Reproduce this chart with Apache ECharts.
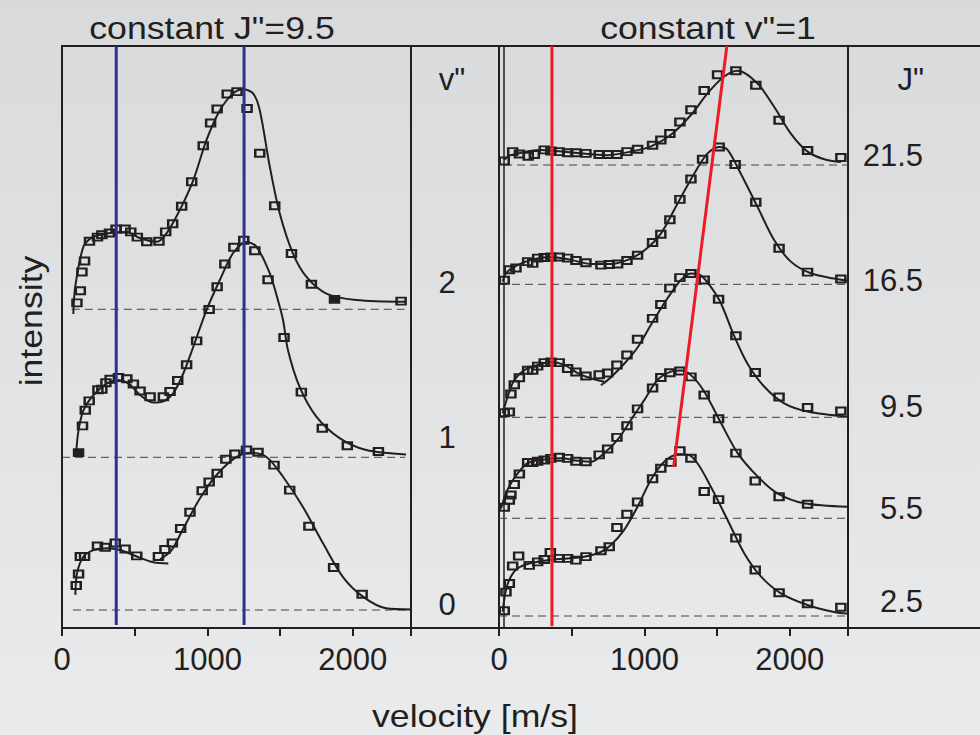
<!DOCTYPE html>
<html><head><meta charset="utf-8">
<script src="https://cdn.jsdelivr.net/npm/echarts@6/dist/echarts.min.js"></script>
<style>html,body{margin:0;padding:0;}#c{width:980px;height:735px;background:linear-gradient(#d9dadc,#eaebec);}</style>
</head><body><div id="c"></div>
<script>
// ---------------- DATA ----------------
// velocity axis (m/s)
const xTickLabels = [0, 1000, 2000];
// baselines (intensity offsets) of each trace
const leftOffsets  = [3.09, 29.33, 54.76];               // v'' = 0, 1, 2
const rightOffsets = [2.06, 18.85, 36.2, 59.05, 79.55];   // J'' = 2.5, 5.5, 9.5, 16.5, 21.5
const vLabels = ['0', '1', '2'];
const jLabels = ['2.5', '5.5', '9.5', '16.5', '21.5'];
// guide lines
const blueLines = [373, 1252];
const redVertical = 364;
const redSlant = [[1201, 27.7], [1567, 100]];

// ---- left panel, constant J''=9.5 ----
// v''=2
const L2_markV = [103,126,137,155,189,244,274,326,372,434,473,518,583,667,713,761,823,892,971,1022,1067,1136,1204,1273,1360,1463,1578,1715,2332];
const L2_markI = [1.1,3.2,6.4,8.3,11.7,12.4,12.8,13.1,13.8,13.8,13.3,12.4,11.6,11.7,13.3,14.7,17.7,21.9,28.1,32.0,34.4,37.0,37.4,34.5,26.8,17.8,9.6,4.3,1.4];
const L2_fillV = [1874];
const L2_fillI = [1.7];
const L2_fitV = [78,91,148,217,354,446,537,652,720,811,903,994,1086,1177,1246,1314,1360,1429,1497,1588,1680,1818,2023,2366];
const L2_fitI = [-0.8,3.9,10.8,12.5,13.2,13.3,12.2,11.6,13.1,17.1,22.2,29.1,34.2,37.1,37.8,37.1,34.2,24.5,16.5,9.6,5.6,2.7,1.6,1.3];
// v''=1
const L1_markV = [141,160,187,247,274,302,331,388,446,491,537,606,697,743,796,857,926,1012,1067,1120,1182,1250,1326,1417,1527,1646,1790,1962,2176];
const L1_markI = [5.4,8.1,9.7,11.6,11.7,12.8,13.4,13.7,13.5,12.6,11.4,10.4,10.4,11.3,13.2,15.9,20.0,25.4,29.3,33.2,36.1,37.3,35.5,30.5,20.6,11.2,5.0,2.0,1.0];
const L1_fillV = [114];
const L1_fillI = [0.8];
const L1_fitV = [98,114,148,217,309,388,457,537,628,697,765,834,903,994,1086,1177,1269,1337,1429,1485,1520,1554,1634,1749,1909,2092,2366];
const L1_fitI = [1.0,4.7,8.1,10.7,12.7,13.3,12.7,10.7,9.4,9.6,11.0,14.4,19.0,25.3,30.5,35.1,37.0,36.2,31.6,27.0,23.6,18.4,12.1,7.0,3.3,1.25,0.5];
// v''=0
const L0_markV = [98,114,126,155,244,297,366,434,514,663,708,759,816,880,964,1012,1067,1127,1189,1269,1348,1458,1566,1698,1868,2064];
const L0_markI = [4.2,6.2,9.2,9.2,11.0,10.8,11.5,10.5,9.3,9.2,10.4,11.5,14.0,16.8,20.5,22.0,23.5,25.9,26.8,27.5,27.1,24.9,20.6,14.4,7.3,2.7];
const L0_fitAV = [92,103,148,217,309,400,514,628,731];
const L0_fitAI = [2.6,6.3,9.2,10.3,10.6,10.3,9.2,8.2,8.0];
const L0_fitBV = [674,754,834,949,1063,1200,1292,1406,1520,1657,1794,1931,2069,2229,2400];
const L0_fitBI = [8.7,10.3,14.0,19.2,23.2,26.3,27.0,26.3,22.9,17.7,11.5,5.7,2.3,0.3,0.1];

// ---- right panel, constant v''=1 ----
// J''=21.5
const R21_markV = [36,94,140,201,243,311,357,414,472,529,598,689,747,811,880,953,1056,1113,1175,1244,1320,1411,1503,1629,1766,1926,2122,2351];
const R21_markI = [0.7,2.3,1.9,1.5,1.8,2.6,2.4,2.3,2.1,2.1,2.0,1.8,1.8,1.8,2.3,2.7,3.4,4.3,5.4,7.4,9.5,12.8,15.5,16.2,13.7,7.7,2.5,1.3];
const R21_fitV = [36,82,289,518,747,907,1045,1182,1320,1434,1548,1641,1778,1892,2007,2122,2236,2351];
const R21_fitI = [0.9,1.7,2.6,2.1,1.7,2.3,3.2,5.2,8.6,12.3,15.2,16.2,14.0,10.0,5.4,2.3,1.0,0.5];
// J''=16.5
const R16_markV = [36,71,117,197,232,266,311,357,414,472,529,598,701,758,816,880,953,1056,1113,1175,1244,1320,1400,1514,1624,1766,1926,2122,2351];
const R16_markI = [0.7,2.5,2.8,3.9,3.6,4.5,4.6,4.7,4.7,4.5,4.1,3.7,3.3,3.4,3.5,4.1,5.0,7.2,8.6,11.1,14.6,18.1,21.5,23.6,20.6,14.1,6.2,2.1,0.9];
const R16_fitV = [25,48,105,220,357,495,632,770,885,999,1113,1228,1342,1434,1514,1572,1663,1778,1892,2007,2144,2304,2400];
const R16_fitI = [0.5,1.9,3.0,4.2,4.7,4.2,3.5,3.5,4.2,5.8,8.7,13.9,19.0,22.5,23.6,23.1,19.0,13.3,7.6,3.9,1.9,1.0,0.6];
// J''=9.5
const R9_markV = [36,71,82,105,140,197,232,266,311,357,414,472,529,598,689,747,811,880,953,1056,1113,1175,1244,1320,1411,1510,1629,1762,1926,2122,2351];
const R9_markI = [0.8,0.9,4.0,5.6,6.8,8.1,8.1,8.8,9.4,9.5,9.4,8.4,7.8,7.1,7.3,7.6,9.0,10.7,13.4,17.0,19.4,22.2,24.0,24.7,23.6,20.3,14.0,7.7,3.5,1.7,1.1];
const R9_fitAV = [25,60,105,174,266,357,449,541,632,724];
const R9_fitAI = [0.7,3.6,6.4,8.1,9.0,9.5,9.0,7.6,6.7,6.1];
const R9_fitBV = [701,770,861,953,1045,1136,1182,1251,1320,1388,1457,1526,1617,1709,1823,1961,2122,2397];
const R9_fitBI = [5.5,6.9,9.2,12.0,15.9,19.6,21.3,23.6,24.7,24.4,22.4,19.6,14.0,9.2,5.3,2.4,1.0,0.1];
// J''=5.5
const R5_markV = [36,71,82,105,140,197,232,266,311,357,414,472,529,598,689,747,811,880,953,1056,1113,1175,1244,1320,1411,1510,1629,1762,1926,2122];
const R5_markI = [1.9,3.1,4.0,5.8,7.6,9.6,9.6,9.8,10.0,10.3,10.5,10.3,9.8,9.7,10.9,11.9,13.9,15.9,18.8,22.4,24.2,25.0,25.3,24.3,21.2,17.1,11.2,6.4,3.7,2.4];
const R5_fitV = [14,48,82,129,197,311,426,541,632,724,816,907,999,1091,1182,1251,1320,1411,1526,1641,1778,1915,2098,2397];
const R5_fitI = [1.7,4.3,6.0,7.7,9.5,10.1,10.3,9.9,9.7,11.2,13.5,16.9,20.3,23.8,25.2,25.4,24.6,21.8,16.4,11.2,7.2,4.3,2.6,2.0];
// J''=2.5
const R2_markV = [36,48,71,94,135,208,266,311,353,414,472,529,598,701,758,811,880,953,1056,1113,1182,1244,1320,1411,1510,1629,1762,1926,2122,2351];
const R2_markI = [0.9,4.1,5.6,8.6,10.3,8.7,9.3,9.7,10.9,9.9,9.9,9.6,10.2,11.2,11.9,15.2,17.5,19.6,23.6,25.4,26.4,28.4,27.1,21.4,20.0,13.4,7.9,4.0,2.1,1.5];
const R2_fitV = [25,48,82,129,220,335,472,586,701,770,861,953,1045,1136,1228,1297,1366,1457,1572,1686,1801,1938,2122,2304,2400];
const R2_fitI = [0.7,4.5,6.8,8.2,9.1,9.6,9.9,10.2,11.0,12.2,14.8,18.8,23.4,26.5,27.7,27.7,26.2,22.2,16.5,10.8,6.8,3.9,1.9,0.7,0.4];

// ---------------- LAYOUT / STYLE ----------------
const INK = '#231f20';
const FONT = '"Liberation Sans", Arial, Helvetica, sans-serif';
const BLUE = '#2e3192';
const RED = '#ed1c24';
const GRID_TOP = 46, GRID_H = 582, GRID_W = 349;
const LEFT_X = 62, RIGHT_X = 499;

function P(vs, is, off) { return vs.map((v, k) => [v, +(off + is[k]).toFixed(3)]); }
function fit(g, data) {
  return {type: 'line', xAxisIndex: g, yAxisIndex: g, data: data, symbol: 'none', showSymbol: false,
    smooth: 0.3, lineStyle: {color: INK, width: 2}, z: 3, silent: true, animation: false};
}
function marks(g, data, filled) {
  return {type: 'scatter', xAxisIndex: g, yAxisIndex: g, data: data, symbol: 'rect', symbolSize: [9, 7],
    itemStyle: {color: filled ? INK : 'rgba(0,0,0,0)', borderColor: INK, borderWidth: 2.2, opacity: 1},
    z: 4, silent: true, animation: false};
}
function baseLine(g, v0, v1, off) {
  return {type: 'line', xAxisIndex: g, yAxisIndex: g, data: [[v0, off], [v1, off]], symbol: 'none',
    lineStyle: {color: '#444', width: 1, type: [8, 5]}, z: 2, silent: true, animation: false};
}
function guide(g, data, color) {
  return {type: 'line', xAxisIndex: g, yAxisIndex: g, data: data, symbol: 'none',
    lineStyle: {color: color, width: 3}, z: 6, silent: true, animation: false};
}
function xAxis(g) {
  return {gridIndex: g, type: 'value', min: 0, max: 2400, interval: 500,
    axisLine: {show: true, onZero: false, lineStyle: {color: INK, width: 2}},
    axisTick: {show: true, inside: false, length: 8, lineStyle: {color: INK, width: 2}},
    axisLabel: {show: true, fontSize: 31, fontFamily: FONT, color: INK, margin: 16,
      formatter: v => (xTickLabels.indexOf(v) >= 0 ? String(v) : '')},
    splitLine: {show: false}};
}
function yAxis(g) {
  return {gridIndex: g, type: 'value', min: 0, max: 100, show: false, splitLine: {show: false}};
}
function txt(text, x, y, size, align, opts) {
  return Object.assign({type: 'text', x: x, y: y, silent: true, originX: 0, originY: 0,
    style: {text: text, fontSize: size, fontFamily: FONT, fill: INK,
      align: align, textAlign: align, verticalAlign: 'middle', textVerticalAlign: 'middle'}}, opts || {});
}
function seg(x1, y1, x2, y2, w) {
  return {type: 'line', silent: true, shape: {x1: x1, y1: y1, x2: x2, y2: y2},
    style: {stroke: INK, lineWidth: w || 2}};
}

// ---------------- SERIES ----------------
const series = [];
// left panel
series.push(baseLine(0, 67, 2360, leftOffsets[2]));
series.push(baseLine(0, 0, 2360, leftOffsets[1]));
series.push(baseLine(0, 75, 2400, leftOffsets[0]));
series.push(fit(0, P(L2_fitV, L2_fitI, leftOffsets[2])));
series.push(fit(0, P(L1_fitV, L1_fitI, leftOffsets[1])));
series.push(fit(0, P(L0_fitAV, L0_fitAI, leftOffsets[0])));
series.push(fit(0, P(L0_fitBV, L0_fitBI, leftOffsets[0])));
series.push(marks(0, P(L2_markV, L2_markI, leftOffsets[2]), false));
series.push(marks(0, P(L2_fillV, L2_fillI, leftOffsets[2]), true));
series.push(marks(0, P(L1_markV, L1_markI, leftOffsets[1]), false));
series.push(marks(0, P(L1_fillV, L1_fillI, leftOffsets[1]), true));
series.push(marks(0, P(L0_markV, L0_markI, leftOffsets[0]), false));
blueLines.forEach(v => series.push(guide(0, [[v, 0.5], [v, 100]], BLUE)));
// right panel
series.push(baseLine(1, 35, 2400, rightOffsets[4]));
series.push(baseLine(1, 0, 2400, rightOffsets[3]));
series.push(baseLine(1, 0, 2400, rightOffsets[2]));
series.push(baseLine(1, 0, 2400, rightOffsets[1]));
series.push(baseLine(1, 0, 2400, rightOffsets[0]));
series.push(fit(1, P(R21_fitV, R21_fitI, rightOffsets[4])));
series.push(fit(1, P(R16_fitV, R16_fitI, rightOffsets[3])));
series.push(fit(1, P(R9_fitAV, R9_fitAI, rightOffsets[2])));
series.push(fit(1, P(R9_fitBV, R9_fitBI, rightOffsets[2])));
series.push(fit(1, P(R5_fitV, R5_fitI, rightOffsets[1])));
series.push(fit(1, P(R2_fitV, R2_fitI, rightOffsets[0])));
series.push(marks(1, P(R21_markV, R21_markI, rightOffsets[4]), false));
series.push(marks(1, P(R16_markV, R16_markI, rightOffsets[3]), false));
series.push(marks(1, P(R9_markV, R9_markI, rightOffsets[2]), false));
series.push(marks(1, P(R5_markV, R5_markI, rightOffsets[1]), false));
series.push(marks(1, P(R2_markV, R2_markI, rightOffsets[0]), false));
series.push(guide(1, [[redVertical, 0.3], [redVertical, 100]], RED));
series.push(guide(1, redSlant, RED));

// ---------------- GRAPHIC (frames & text) ----------------
const vLabelY = [604, 437, 282];
const jLabelY = [601, 508, 406, 280, 155];
const G_BOTTOM = GRID_TOP + GRID_H;
const graphic = [
  // middle strip frame
  seg(411, GRID_TOP, RIGHT_X, GRID_TOP), seg(411, G_BOTTOM, RIGHT_X, G_BOTTOM),
  seg(RIGHT_X + 5, GRID_TOP, RIGHT_X + 5, G_BOTTOM, 1.5),
  // right strip frame
  seg(RIGHT_X + GRID_W, GRID_TOP, 980, GRID_TOP), seg(RIGHT_X + GRID_W, G_BOTTOM, 980, G_BOTTOM),
  // titles
  txt('constant J"=9.5', 212, 28, 31, 'center', {scaleX: 1.15}),
  txt('constant v"=1', 708, 28, 31, 'center', {scaleX: 1.15}),
  txt('intensity', 31, 321, 31, 'center', {rotation: Math.PI / 2, scaleX: 1.15}),
  txt('velocity [m/s]', 475, 716, 31, 'center', {scaleX: 1.15}),
  txt('v"', 452, 79, 31, 'center'),
  txt('J"', 924, 79, 31, 'right')
];
vLabels.forEach((t, k) => graphic.push(txt(t, 447, vLabelY[k], 31, 'center')));
jLabels.forEach((t, k) => graphic.push(txt(t, 923, jLabelY[k], 31, 'right')));

const chart = echarts.init(document.getElementById('c'), null, {renderer: 'svg', width: 980, height: 735});
chart.setOption({
  animation: false,
  backgroundColor: 'transparent',
  grid: [
    {left: LEFT_X, top: GRID_TOP, width: GRID_W, height: GRID_H, show: true, borderColor: INK, borderWidth: 2, backgroundColor: 'transparent'},
    {left: RIGHT_X, top: GRID_TOP, width: GRID_W, height: GRID_H, show: true, borderColor: INK, borderWidth: 2, backgroundColor: 'transparent'}
  ],
  xAxis: [xAxis(0), xAxis(1)],
  yAxis: [yAxis(0), yAxis(1)],
  series: series,
  graphic: graphic
});
</script></body></html>
